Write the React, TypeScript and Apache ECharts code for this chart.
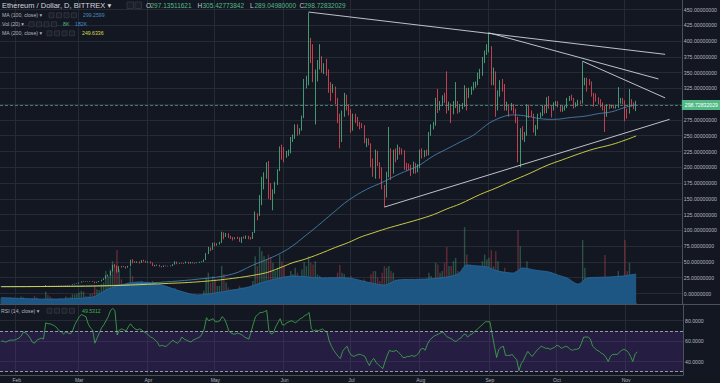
import React, { useEffect, useRef } from 'react';
import * as echarts from 'echarts';

// ---------- data ----------
const START_DATE = '2017-01-25';
const CATEGORY_COUNT = 306; // Jan 25 .. Nov 26 2017 (right margin of the chart)
const MONTHS = ['Jan', 'Feb', 'Mar', 'Apr', 'May', 'Jun', 'Jul', 'Aug', 'Sep', 'Oct', 'Nov', 'Dec'];

// daily candles [open, close, low, high], Jan 25 .. Nov 6 2017
const ohlc: number[][] = [
  [10.5,10.6,10.3,10.8],[10.6,10.6,10.4,10.9],[10.6,10.6,10.5,10.8],[10.6,10.6,10.5,10.7],[10.6,10.5,10.4,10.7],[10.5,10.6,10.4,10.7],[10.6,10.7,10.5,10.8],
  [10.7,10.8,10.6,10.9],[10.8,10.8,10.7,11.0],[10.8,11.3,10.8,11.4],[11.3,11.4,11.1,11.6],[11.4,11.3,11.1,11.5],[11.3,11.3,11.2,11.5],[11.3,11.5,11.3,11.6],[11.5,11.4,11.2,11.7],[11.4,11.0,10.6,11.5],[11.0,11.3,10.9,11.4],
  [11.3,11.4,11.2,11.5],[11.4,11.4,11.3,11.5],[11.4,11.6,11.3,11.9],[11.6,13.1,11.6,13.4],[13.1,13.0,12.8,13.3],[13.0,12.9,12.7,13.2],[12.9,12.8,12.6,13.0],[12.8,12.8,12.6,13.0],[12.8,12.7,12.5,12.9],[12.7,12.3,12.1,12.8],
  [12.3,12.5,12.2,12.7],[12.5,12.6,12.4,12.8],[12.6,13.1,12.5,13.3],[13.1,13.0,12.6,13.4],[13.0,13.4,12.9,13.6],[13.4,14.3,13.3,14.6],[14.3,15.3,14.2,15.5],[15.3,15.7,15.0,16.1],
  [15.7,17.3,15.6,17.5],[17.3,18.9,17.2,19.2],[18.9,19.2,18.6,19.6],[19.2,18.6,18.2,19.3],[18.6,19.1,18.4,19.3],[19.1,19.7,19.0,19.9],[19.7,18.9,18.4,19.8],[18.9,16.9,16.3,19.0],[16.9,18.3,16.8,18.6],[18.3,19.4,18.1,19.9],
  [19.4,21.4,19.3,22.0],[21.4,23.6,21.3,24.2],[23.6,28.5,23.5,29.0],[28.5,28.7,27.2,30.0],[28.7,35.2,28.5,35.6],[35.2,44.6,35.0,45.5],[44.6,44.1,41.5,47.0],[44.1,34.3,33.0,44.5],[34.3,43.0,34.0,43.5],[43.0,42.3,41.0,43.8],
  [42.3,42.6,41.8,43.5],[42.6,41.3,39.5,43.0],[41.3,43.2,41.0,43.8],[43.2,53.0,43.0,53.5],[53.0,50.6,48.0,54.5],[50.6,50.3,49.0,51.5],[50.3,50.5,48.5,51.0],[50.5,48.9,47.5,51.0],[48.9,52.7,48.5,53.0],[52.7,51.9,50.5,53.5],[51.9,49.6,49.0,52.0],
  [49.6,50.5,48.8,51.0],[50.5,48.6,47.5,51.0],[48.6,44.1,43.5,49.0],[44.1,44.4,43.0,45.5],[44.4,45.1,43.8,45.8],[45.1,43.2,42.5,45.5],[43.2,42.3,41.5,43.5],[42.3,44.0,42.0,44.5],[44.0,43.8,43.0,44.5],[43.8,43.4,42.8,44.0],
  [43.4,43.8,43.0,44.5],[43.8,46.0,43.5,46.5],[46.0,50.0,45.8,51.0],[50.0,47.6,46.5,50.5],[47.6,48.1,47.0,48.5],[48.1,48.3,47.5,48.8],[48.3,47.9,47.0,48.6],[47.9,50.2,47.8,50.8],[50.2,47.9,47.2,50.4],[47.9,49.4,47.5,50.0],
  [49.4,48.3,47.8,49.8],[48.3,48.5,47.5,49.0],[48.5,48.9,48.0,49.3],[48.9,49.9,48.5,50.3],[49.9,50.1,49.5,51.0],[50.1,53.3,50.0,54.0],[53.3,63.1,53.0,64.0],[63.1,72.4,62.5,74.0],[72.4,69.2,67.0,73.0],[69.2,79.8,69.0,80.5],
  [79.8,77.5,75.0,81.0],[77.5,77.9,76.0,79.5],[77.9,80.3,77.5,82.0],[80.3,95.0,80.0,98.0],[95.0,90.3,86.0,97.0],[90.3,94.7,89.5,96.0],[94.7,90.1,88.0,95.5],[90.1,88.4,86.5,91.5],[88.4,87.6,84.0,89.5],[87.6,88.2,86.0,89.0],
  [88.2,88.1,86.5,90.0],[88.1,85.2,82.0,89.0],[85.2,89.0,80.0,89.5],[89.0,88.6,87.0,90.5],[88.6,90.9,86.5,92.0],[90.9,88.0,86.0,91.5],[88.0,87.1,85.5,89.5],[87.1,96.6,86.5,97.5],[96.6,124.3,96.0,130.0],[124.3,123.7,116.0,127.0],
  [123.7,152.9,123.0,156.0],[152.9,169.8,140.0,185.0],[169.8,184.1,165.0,192.0],[184.1,194.6,182.0,208.0],[194.6,171.6,150.0,210.0],[171.6,157.2,148.0,175.0],[157.2,160.2,132.0,165.0],[160.2,174.4,158.0,177.0],[174.4,195.0,172.0,197.0],[195.0,230.1,194.0,233.0],[230.1,229.3,212.0,236.0],
  [229.3,220.6,208.0,232.0],[220.6,222.2,215.0,226.0],[222.2,224.2,218.0,228.0],[224.2,244.2,222.0,248.0],[244.2,247.4,240.0,252.0],[247.4,264.9,245.0,268.0],[264.9,255.6,250.0,268.0],[255.6,259.4,252.0,262.0],[259.4,279.8,258.0,282.0],[279.8,335.5,278.0,340.0],
  [335.5,337.9,325.0,345.0],[337.9,389.0,330.0,445.0],[389.0,386.0,365.0,405.0],[386.0,344.3,335.0,395.0],[344.3,345.0,268.0,355.0],[345.0,358.6,336.0,370.0],[358.6,372.3,355.0,395.0],[372.3,355.3,350.0,376.0],[355.3,358.1,348.0,365.0],[358.1,349.9,345.0,372.0],
  [349.9,326.4,318.0,355.0],[326.4,322.8,305.0,335.0],[322.8,324.6,318.0,332.0],[324.6,305.4,300.0,328.0],[305.4,281.4,270.0,310.0],[281.4,255.3,230.0,285.0],[255.3,287.2,240.0,290.0],[287.2,311.7,280.0,318.0],[311.7,296.8,290.0,315.0],[296.8,289.5,282.0,300.0],
  [289.5,261.1,255.0,292.0],[261.1,283.8,258.0,285.0],[283.8,276.3,270.0,285.0],[276.3,269.2,265.0,280.0],[269.2,266.4,260.0,272.0],[266.4,266.2,262.0,270.0],[266.2,240.2,238.0,267.0],[240.2,243.1,232.0,246.0],[243.1,237.1,235.0,246.0],[237.1,206.4,200.0,238.0],
  [206.4,190.4,185.0,214.0],[190.4,224.4,182.0,228.0],[224.4,205.2,202.0,226.0],[205.2,197.6,182.0,208.0],[197.6,169.4,165.0,200.0],[169.4,155.2,137.0,172.0],[155.2,189.6,152.0,193.0],[189.6,228.1,184.0,264.0],[228.1,194.1,180.0,230.0],[194.1,226.3,190.0,228.0],
  [226.3,216.3,208.0,230.0],[216.3,230.3,212.0,236.0],[230.3,228.3,220.0,232.0],[228.3,225.3,220.0,230.0],[225.3,203.6,196.0,227.0],[203.6,202.3,195.0,207.0],[202.3,202.2,196.0,206.0],[202.2,191.5,186.0,204.0],[191.5,206.4,190.0,209.0],[206.4,197.1,190.0,207.0],[197.1,201.6,192.0,205.0],
  [201.6,225.9,199.0,228.0],[225.9,218.6,214.0,230.0],[218.6,224.9,216.0,227.0],[224.9,220.6,218.0,228.0],[220.6,253.4,219.0,256.0],[253.4,264.2,250.0,268.0],[264.2,269.4,260.0,272.0],[269.4,296.5,266.0,310.0],[296.5,296.0,286.0,324.0],[296.0,298.5,290.0,305.0],
  [298.5,309.9,297.0,314.0],[309.9,308.6,302.0,318.0],[308.6,297.2,285.0,352.0],[297.2,299.1,290.0,304.0],[299.1,286.5,270.0,301.0],[286.5,300.5,284.0,305.0],[300.5,301.5,294.0,335.0],[301.5,293.3,285.0,305.0],[293.3,295.4,287.0,300.0],[295.4,298.2,292.0,302.0],
  [298.2,321.8,296.0,330.0],[321.8,313.7,290.0,326.0],[313.7,317.2,310.0,326.0],[317.2,325.1,315.0,328.0],[325.1,330.0,322.0,335.0],[330.0,331.0,326.0,336.0],[331.0,345.3,330.0,350.0],[345.3,348.6,340.0,356.0],[348.6,371.9,345.0,375.0],[371.9,380.5,365.0,385.0],[380.5,387.8,378.0,395.0],
  [387.8,389.0,382.0,414.0],[389.0,348.0,330.0,392.0],[348.0,350.0,330.0,358.0],[350.0,297.2,280.0,352.0],[297.2,316.0,290.0,322.0],[316.0,334.8,312.0,338.0],[334.8,329.9,320.0,340.0],[329.9,298.4,290.0,332.0],[298.4,298.4,290.0,304.0],[298.4,292.3,280.0,300.0],
  [292.3,295.2,290.0,302.0],[295.2,292.0,285.0,300.0],[292.0,276.9,270.0,293.0],[276.9,221.0,208.0,280.0],[221.0,259.6,200.0,262.0],[259.6,250.6,243.0,265.0],[250.6,252.1,240.0,256.0],[252.1,297.3,250.0,300.0],[297.3,283.4,278.0,299.0],[283.4,283.1,280.0,290.0],
  [283.1,258.8,255.0,285.0],[258.8,263.3,250.0,267.0],[263.3,282.6,260.0,285.0],[282.6,283.0,278.0,287.0],[283.0,295.7,281.0,298.0],[295.7,287.5,285.0,299.0],[287.5,309.9,286.0,311.0],[309.9,295.4,293.0,313.0],[295.4,292.4,279.0,297.0],[292.4,301.1,290.0,303.0],
  [301.1,302.3,297.0,305.0],[302.3,297.5,295.0,305.0],[297.5,292.5,288.0,299.0],[292.5,292.6,288.0,297.0],[292.6,295.9,290.0,298.0],[295.9,308.1,294.0,310.0],[308.1,311.3,305.0,313.0],[311.3,309.1,306.0,315.0],[309.1,297.5,293.0,310.0],[297.5,299.9,295.0,303.0],
  [299.9,303.3,297.0,307.0],[303.3,302.9,300.0,306.0],[302.9,338.9,301.0,368.0],[338.9,339.0,330.0,342.0],[339.0,336.8,320.0,342.0],[336.8,334.0,330.0,340.0],[334.0,316.7,312.0,336.0],[316.7,314.9,296.0,318.0],[314.9,308.1,304.0,317.0],[308.1,303.5,300.0,311.0],
  [303.5,300.0,295.0,308.0],[300.0,295.8,290.0,303.0],[295.8,282.0,256.0,298.0],[282.0,298.3,280.0,300.0],[298.3,296.5,292.0,300.0],[296.5,297.0,294.0,299.0],[297.0,296.4,293.0,299.0],[296.4,296.8,293.0,299.0],[296.8,305.6,294.0,327.0],[305.6,306.8,301.0,310.0],[306.8,304.4,300.0,310.0],
  [304.4,290.4,273.0,306.0],[290.4,287.5,277.0,293.0],[287.5,305.7,285.0,324.0],[305.7,300.5,296.0,308.0],[300.5,297.1,292.0,303.0],[297.13511621,298.72832029,289.0498,305.42773842],
];

// daily volume, thousands
const volumeK: number[] = [
  35,30,28,32,40,38,36,
  34,30,45,40,28,25,30,35,50,38,28,25,30,75,55,45,35,30,28,35,32,30,45,40,42,60,58,62,
  70,80,75,50,45,60,65,110,90,85,120,130,200,170,210,260,230,328,210,150,120,110,130,220,170,120,110,115,140,120,100,
  90,110,140,95,80,85,80,60,55,50,55,70,95,80,50,45,50,60,55,50,45,40,40,50,55,80,160,190,130,170,
  150,110,110,230,180,130,100,90,90,80,80,110,100,80,90,80,75,140,290,230,346,320,290,270,300,280,250,200,220,300,260,
  230,160,140,200,180,220,190,170,210,255,230,290,250,240,260,180,170,150,140,140,160,150,120,150,190,237,190,180,150,130,
  170,150,120,110,110,100,150,110,100,180,200,200,160,140,190,230,220,230,200,190,150,140,120,110,150,120,110,120,110,100,110,
  150,130,110,100,190,170,150,250,240,190,200,250,346,230,230,260,280,200,150,140,467,300,200,180,150,130,170,180,260,300,270,
  280,328,230,320,260,200,190,220,160,140,130,140,200,449,350,200,150,260,180,130,170,140,120,110,130,120,170,150,130,120,
  110,100,100,90,90,130,110,100,110,90,100,110,388,220,160,130,150,140,130,110,100,110,297,150,100,90,80,70,200,150,130,
  388,200,250,170,130,8,
];

// RSI(14), daily
const rsi14: number[] = [
  60,60,59,60,61,61,61,62,63,65, 69,68,66,63,59,58,61,62,63,62,
  78,77,77,76,75,73,70,69,67,69, 68,67,70,76,80,84,86,85,84,77,
  73,71,58,63,68,73,76,80,84,90, 92,90,66,71,72,71,70,74,77,74,
  72,71,72,71,69,68,66,64,63,61, 59,55,56,55,55,57,59,61,59,58,
  60,64,62,61,60,59,61,62,63,64, 67,72,83,80,81,82,79,79,80,84,
  82,77,70,68,67,67,68,67,66,64, 63,62,69,77,84,86,88,88,89,90,
  70,67,68,74,78,82,76,76,78,79, 80,79,78,80,82,83,85,86,88,72,
  70,71,70,71,72,70,69,60,55,51, 48,45,43,50,53,55,49,46,45,46,
  47,47,46,45,40,36,41,43,39,37, 35,33,40,46,51,50,50,51,49,47,
  44,44,45,45,46,45,46,48,52,53, 51,57,61,63,65,66,67,68,69,66,
  64,63,62,60,60,62,63,66,67,64, 66,67,69,71,73,75,77,79,79,79,
  67,55,44,52,54,55,46,46,46,47, 44,42,31,38,41,46,50,47,45,48,
  51,53,55,54,53,53,52,53,54,56, 55,53,54,55,54,52,51,52,52,53,
  58,64,64,64,62,55,53,51,50,48, 47,44,40,45,47,47,47,49,51,52,
  51,49,45,40,47,49.5312,
];

// moving averages read at selected days: [dayIndex, value]
const ma100: number[][] = [
  [0,10.8],[30,11.5],[50,13],[64,16],[89,23],[104,31],[113,45],[120,55],[126,65],[131,76],[136,90],[142,107],
  [149,128],[156,148],[164,165],[171,176],[179,190],[187,202],[194,218],[200,229],[206,240],[212,251],[216,262],
  [220,272],[226,281],[230,283],[236,281],[242,277],[248,276],[256,279],[262,281],[268,285],[274,288],[280,295],[285,299.2599],
];
const ma200: number[][] = [
  [0,10.9],[41,11.8],[75,16],[90,19],[104,24],[115,30],[120,34],[126,42],[131,49],[136,54],[143,63],[150,73],
  [156,81],[161,89],[166,95],[173,103],[180,110],[187,117],[194,125],[200,134],[206,142],[215,157],[222,167],
  [229,178],[237,190],[245,203],[252,212],[259,221],[266,229],[274,236],[280,243],[285,249.6336],
];
const volMa20: number[][] = [
  [0,39],[20,30],[41,42],[47,85],[52,110],[62,134],[72,115],[80,80],[88,55],[96,67],[104,85],[111,103],[117,130],
  [123,152],[131,170],[137,165],[143,158],[150,160],[156,158],[164,134],[172,115],[178,146],[188,150],[197,158],
  [205,182],[209,237],[213,232],[218,225],[223,200],[230,188],[234,219],[240,205],[246,194],[250,175],[254,158],
  [259,121],[263,158],[268,162],[273,164],[279,170],[285,182],
];

// drawn trend lines: [[dayIndex, price], [dayIndex, price]]
const trendLines: number[][][] = [
  [[138, 446], [298, 379]],
  [[219, 413], [295, 340]],
  [[261, 368], [298, 310]],
  [[172, 137], [300, 276]],
];

const priceTicks = [0,25,50,75,100,125,150,175,200,225,250,275,300,325,350,375,400,425,450];
const rsiTicks = [40, 60, 80];
const rsiBands = [30, 70];
const lastClose = 298.72832029;
const legendOHLC = ['297.13511621', '305.42773842', '289.04980000', '298.72832029'];

// ---------- styles ----------
const UP = '#53b987';
const DOWN = '#eb4d5c';
const BG = '#131722';
const GRID = '#262a35';
const AXIS = '#4c505b';
const TEXT = '#b2b5be';
const MA100C = '#4a8bbd';
const MA200C = '#dcdc4a';
const RSIC = '#3fb24b';
const FONT = '"Liberation Sans", Arial, "DejaVu Sans", sans-serif';

function buildCategories(): string[] {
  const out: string[] = [];
  const t0 = Date.parse(START_DATE + 'T00:00:00Z');
  for (let k = 0; k < CATEGORY_COUNT; k++) {
    out.push(new Date(t0 + k * 86400000).toISOString().slice(0, 10));
  }
  return out;
}

const isMonthStart = (_i: number, v: string) => typeof v === 'string' && v.slice(8) === '01';

function txt(text: string, x: number, y: number, fill: string, size: number) {
  return {
    type: 'text', x, y, z: 100, silent: true,
    style: { text, fill, font: `${size}px ${FONT}`, align: 'left', verticalAlign: 'middle' },
  };
}
function box(x: number, y: number, s: number) {
  return {
    type: 'rect', z: 100, silent: true,
    shape: { x, y, width: s, height: s },
    style: { fill: '#1b1f2a', stroke: '#3d414c', lineWidth: 0.6 },
  };
}

export default function App() {
  const ref = useRef<HTMLDivElement>(null);

  useEffect(() => {
    if (!ref.current) return;
    const chart = echarts.init(ref.current, null, { renderer: 'svg' });
    const categories = buildCategories();

    const volData = volumeK.map((v, i) => ({
      value: v,
      itemStyle: { color: ohlc[i][1] >= ohlc[i][0] ? 'rgba(83,185,135,0.36)' : 'rgba(235,77,92,0.36)' },
    }));

    const graphic: any[] = [
      { type: 'line', z: 90, silent: true, shape: { x1: 0, y1: 304.5, x2: 720, y2: 304.5 }, style: { stroke: AXIS, lineWidth: 1 } },
      txt('Ethereum / Dollar, D, BITTREX \u25BE', 2, 5.5, '#d1d4dc', 7.5),
      box(127, 2, 6.5), box(135, 2, 6.5),
      txt('O', 146, 5.5, '#c8cbd3', 6.5), txt(legendOHLC[0], 150.5, 5.5, UP, 6.5),
      txt('H', 197.5, 5.5, '#c8cbd3', 6.5), txt(legendOHLC[1], 202.5, 5.5, UP, 6.5),
      txt('L', 250, 5.5, '#c8cbd3', 6.5), txt(legendOHLC[2], 254.5, 5.5, UP, 6.5),
      txt('C', 299.5, 5.5, '#c8cbd3', 6.5), txt(legendOHLC[3], 304, 5.5, UP, 6.5),
      txt('MA (100, close) \u25BE', 2, 15.3, TEXT, 5.2),
      box(49, 12.8, 5), box(56.5, 12.8, 5), box(64, 12.8, 5), box(71.5, 12.8, 5),
      txt('299.2599', 83, 15.3, MA100C, 5.2),
      txt('Vol (20) \u25BE', 2, 24.3, TEXT, 5.2),
      box(29, 21.8, 5), box(36.5, 21.8, 5), box(44, 21.8, 5), box(51.5, 21.8, 5),
      txt('8K', 63, 24.3, UP, 5.2), txt('182K', 75, 24.3, '#3f8fd0', 5.2),
      txt('MA (200, close) \u25BE', 2, 33.3, TEXT, 5.2),
      box(47, 30.8, 5), box(54.5, 30.8, 5), box(62, 30.8, 5), box(69.5, 30.8, 5),
      txt('249.6336', 82, 33.3, MA200C, 5.2),
      txt('RSI (14, close) \u25BE', 1, 310.8, TEXT, 5.2),
      box(47, 308.3, 5), box(54.5, 308.3, 5), box(62, 308.3, 5), box(69.5, 308.3, 5),
      txt('49.5312', 82, 310.8, RSIC, 5.2),
    ];

    const option: any = {
      animation: false,
      backgroundColor: BG,
      textStyle: { fontFamily: FONT },
      grid: [
        { left: -0.9, width: 683.9, top: 0, height: 304 },
        { left: -0.9, width: 683.9, top: 304, height: 71 },
      ],
      xAxis: [
        {
          type: 'category', gridIndex: 0, data: categories, boundaryGap: true,
          axisLine: { show: false }, axisTick: { show: false }, axisLabel: { show: false },
          splitLine: { show: true, interval: isMonthStart, lineStyle: { color: GRID, width: 1 } },
        },
        {
          type: 'category', gridIndex: 1, data: categories, boundaryGap: true,
          axisLine: { show: true, lineStyle: { color: AXIS, width: 1 } }, axisTick: { show: false },
          axisLabel: {
            interval: isMonthStart, margin: 2, fontSize: 5, color: TEXT, fontFamily: FONT,
            formatter: (v: string) => MONTHS[parseInt(v.slice(5, 7), 10) - 1],
          },
          splitLine: { show: true, interval: isMonthStart, lineStyle: { color: GRID, width: 1 } },
        },
      ],
      yAxis: [
        {
          type: 'value', gridIndex: 0, position: 'right', min: -16.6, max: 465.1, scale: true,
          axisLine: { show: true, lineStyle: { color: AXIS, width: 1 } },
          axisTick: { show: false, customValues: priceTicks },
          axisLabel: {
            customValues: priceTicks, margin: 2, fontSize: 5.2, color: TEXT, fontFamily: FONT,
            formatter: (v: number) => (v === 300 ? '' : Number(v).toFixed(8)),
          },
          splitLine: { show: true, lineStyle: { color: GRID, width: 1 } },
        },
        { type: 'value', gridIndex: 0, min: 0, max: 1845, show: false, splitLine: { show: false } },
        {
          type: 'value', gridIndex: 1, position: 'right', min: 26.8, max: 96.4, scale: true,
          axisLine: { show: true, lineStyle: { color: AXIS, width: 1 } },
          axisTick: { show: false, customValues: rsiTicks },
          axisLabel: {
            customValues: rsiTicks, margin: 2, fontSize: 5.2, color: TEXT, fontFamily: FONT,
            formatter: (v: number) => Number(v).toFixed(4),
          },
          splitLine: { show: true, lineStyle: { color: GRID, width: 1 } },
        },
      ],
      series: [
        {
          name: 'Volume', type: 'bar', xAxisIndex: 0, yAxisIndex: 1, data: volData,
          barWidth: 1.4, z: 1, silent: true,
        },
        {
          name: 'Vol MA', type: 'line', xAxisIndex: 0, yAxisIndex: 1, data: volMa20,
          symbol: 'none', smooth: 0.3, connectNulls: true, z: 2, silent: true,
          lineStyle: { color: '#2a6ba0', width: 0.8 },
          areaStyle: { color: '#1d5683', opacity: 1 },
        },
        {
          name: 'ETH', type: 'candlestick', xAxisIndex: 0, yAxisIndex: 0, data: ohlc,
          barWidth: 1.1, z: 3, silent: true,
          itemStyle: { color: UP, color0: DOWN, borderColor: UP, borderColor0: DOWN, borderWidth: 0.8 },
          markLine: {
            silent: true, symbol: 'none', z: 6, animation: false,
            lineStyle: { type: [3, 2], color: '#4d9880', width: 0.8 },
            label: {
              show: true, position: 'end', distance: 0, formatter: lastClose.toFixed(8),
              backgroundColor: UP, color: '#ffffff', fontSize: 5.2, fontFamily: FONT, padding: [2.5, 4, 2.5, 3],
            },
            data: [{ yAxis: lastClose }],
          },
        },
        {
          name: 'MA100', type: 'line', xAxisIndex: 0, yAxisIndex: 0, data: ma100,
          symbol: 'none', smooth: 0.4, z: 4, silent: true, lineStyle: { color: MA100C, width: 0.8 },
        },
        {
          name: 'MA200', type: 'line', xAxisIndex: 0, yAxisIndex: 0, data: ma200,
          symbol: 'none', smooth: 0.4, z: 4, silent: true, lineStyle: { color: MA200C, width: 0.9 },
        },
        ...trendLines.map((seg, k) => ({
          name: 'Trend' + k, type: 'line', xAxisIndex: 0, yAxisIndex: 0, data: seg,
          symbol: 'none', z: 5, silent: true, lineStyle: { color: '#d1d4dc', width: 0.9 },
        })),
        {
          name: 'RSI', type: 'line', xAxisIndex: 1, yAxisIndex: 2, data: rsi14,
          symbol: 'none', z: 4, silent: true, lineStyle: { color: RSIC, width: 0.8 },
          markArea: {
            silent: true, itemStyle: { color: 'rgba(103,58,183,0.22)' },
            data: [[{ yAxis: rsiBands[0] }, { yAxis: rsiBands[1] }]],
          },
          markLine: {
            silent: true, symbol: 'none', label: { show: false },
            lineStyle: { type: [3, 2], color: '#b8bac2', width: 0.8 },
            data: rsiBands.map((b) => ({ yAxis: b })),
          },
        },
      ],
      graphic,
    };

    chart.setOption(option);
    return () => chart.dispose();
  }, []);

  return (
    <div
      ref={ref}
      style={{ position: 'fixed', left: 0, top: 0, width: 720, height: 383, background: BG }}
    />
  );
}
